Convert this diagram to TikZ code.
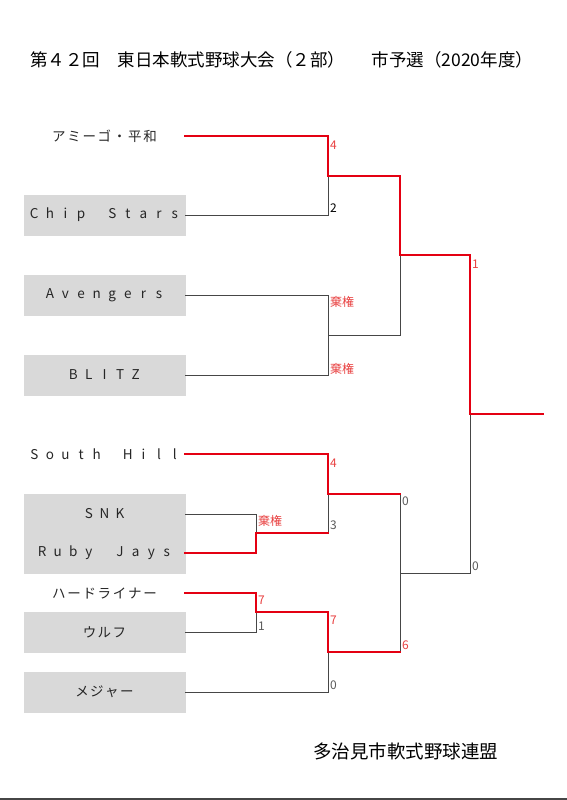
\documentclass[tikz,border=0pt]{standalone}
\usepackage{fontspec}
\setmainfont{Noto Sans CJK JP}
\definecolor{boxgray}{RGB}{217,217,217}
\definecolor{winred}{RGB}{228,0,18}
\definecolor{scorered}{RGB}{232,64,64}
\definecolor{linegray}{RGB}{70,70,70}
\definecolor{textgray}{RGB}{90,90,90}
% each character set in a cell of fixed width
\ExplSyntaxOn
\NewDocumentCommand{\pitch}{O{15.6pt}m}{\str_map_inline:nn {#2} {\makebox[#1]{##1}}}
\ExplSyntaxOff
\tikzset{
  team/.style={minimum width=161pt, minimum height=39.5pt, inner sep=0pt,
    font=\fontsize{13.5}{15}\selectfont, text=black!85},
  teambox/.style={team, fill=boxgray, draw=boxgray},
  loseline/.style={linegray, line width=0.8pt},
  winline/.style={winred, line width=1.6pt},
  champline/.style={winred, line width=2.6pt},
  score/.style={anchor=west, inner sep=0pt, font=\fontsize{12}{12}\selectfont},
}
\begin{document}
\begin{tikzpicture}[x=1pt, y=-1pt, line join=miter, line cap=rect]
  \useasboundingbox (0,0) rectangle (566,800);

  % title
  \node[anchor=west, inner sep=0pt, font=\fontsize{17.5}{19}\selectfont] (title) at (30,60)
    {第４２回　東日本軟式野球大会（２部）　\hspace{9pt}市予選（2020年度）};

  % teams
  \foreach \nm/\y/\txt/\sty in {t1/136/\pitch[15.2pt]{アミーゴ・平和}/team, t2/215/\pitch{Chip Stars}/teambox,
      t3/295/\pitch{Avengers}/teambox, t4/375/\pitch{BLITZ}/teambox, t5/454/\pitch{South Hill}/team,
      t6/514/\pitch{SNK}/teambox, t7/553/\pitch{Ruby Jays}/teambox, t8/593/\pitch[15.2pt]{ハードライナー}/team,
      t9/632/\pitch[15pt]{ウルフ}/teambox, t10/692/\pitch[15pt]{メジャー}/teambox}
    \node[\sty] (\nm) at (104.5,\y) {\txt};

  % bracket corners
  \coordinate (m1) at (256,533);
  \coordinate (m2) at (256,612);
  \coordinate (q1) at (328,176);
  \coordinate (q2) at (328,335);
  \coordinate (q3) at (328,494);
  \coordinate (q4) at (328,652);
  \coordinate (s1) at (400,255);
  \coordinate (s2) at (400,573);
  \coordinate (f) at (470,414);
  \coordinate (champ) at (543,414);

  % losing sides
  \draw[loseline] (t2.east) -| (q1);
  \draw[loseline] (t3.east) -| (q2) -| (s1);
  \draw[loseline] (t4.east) -| (q2);
  \draw[loseline] (t6.east) -| (m1);
  \draw[loseline] (t9.east) -| (m2);
  \draw[loseline] (q3) |- (m1);
  \draw[loseline] (t10.east) -| (q4);
  \draw[loseline] (s2 |- q3) -- (s2 |- q4);
  \draw[loseline] (s2) -| (f);

  % winning sides
  \draw[winline] (t1.east) -| (q1) -| (s1);
  \draw[champline] (s1) -| (f) -- (champ);
  \draw[winline] (t5.east) -| (q3) -- (s2 |- q3);
  \draw[winline] (t7.east) -| (m1) -- (q3 |- m1);
  \draw[winline] (t8.east) -| (m2) -- (q4 |- m2) -- (q4) -- (s2 |- q4);

  % scores
  \foreach \x/\y/\s/\c in {258/521/棄権/scorered, 258/600/7/scorered, 258/626/1/textgray,
      330/145/4/scorered, 330/208/2/black, 330/302/棄権/scorered, 330/369/棄権/scorered,
      330/463/4/scorered, 330/525/3/textgray, 330/620/7/scorered, 330/685/0/textgray,
      402/501/0/textgray, 402/645/6/scorered, 472/264/1/scorered, 472/566/0/textgray}
    \node[score, text=\c] at (\x,\y) {\s};

  % footer
  \node[anchor=west, inner sep=0pt, font=\fontsize{18.5}{20}\selectfont] (org) at (313,751)
    {多治見市軟式野球連盟};
  \draw[linegray, line width=2pt] (0,799) -- (566,799);
\end{tikzpicture}
\end{document}
